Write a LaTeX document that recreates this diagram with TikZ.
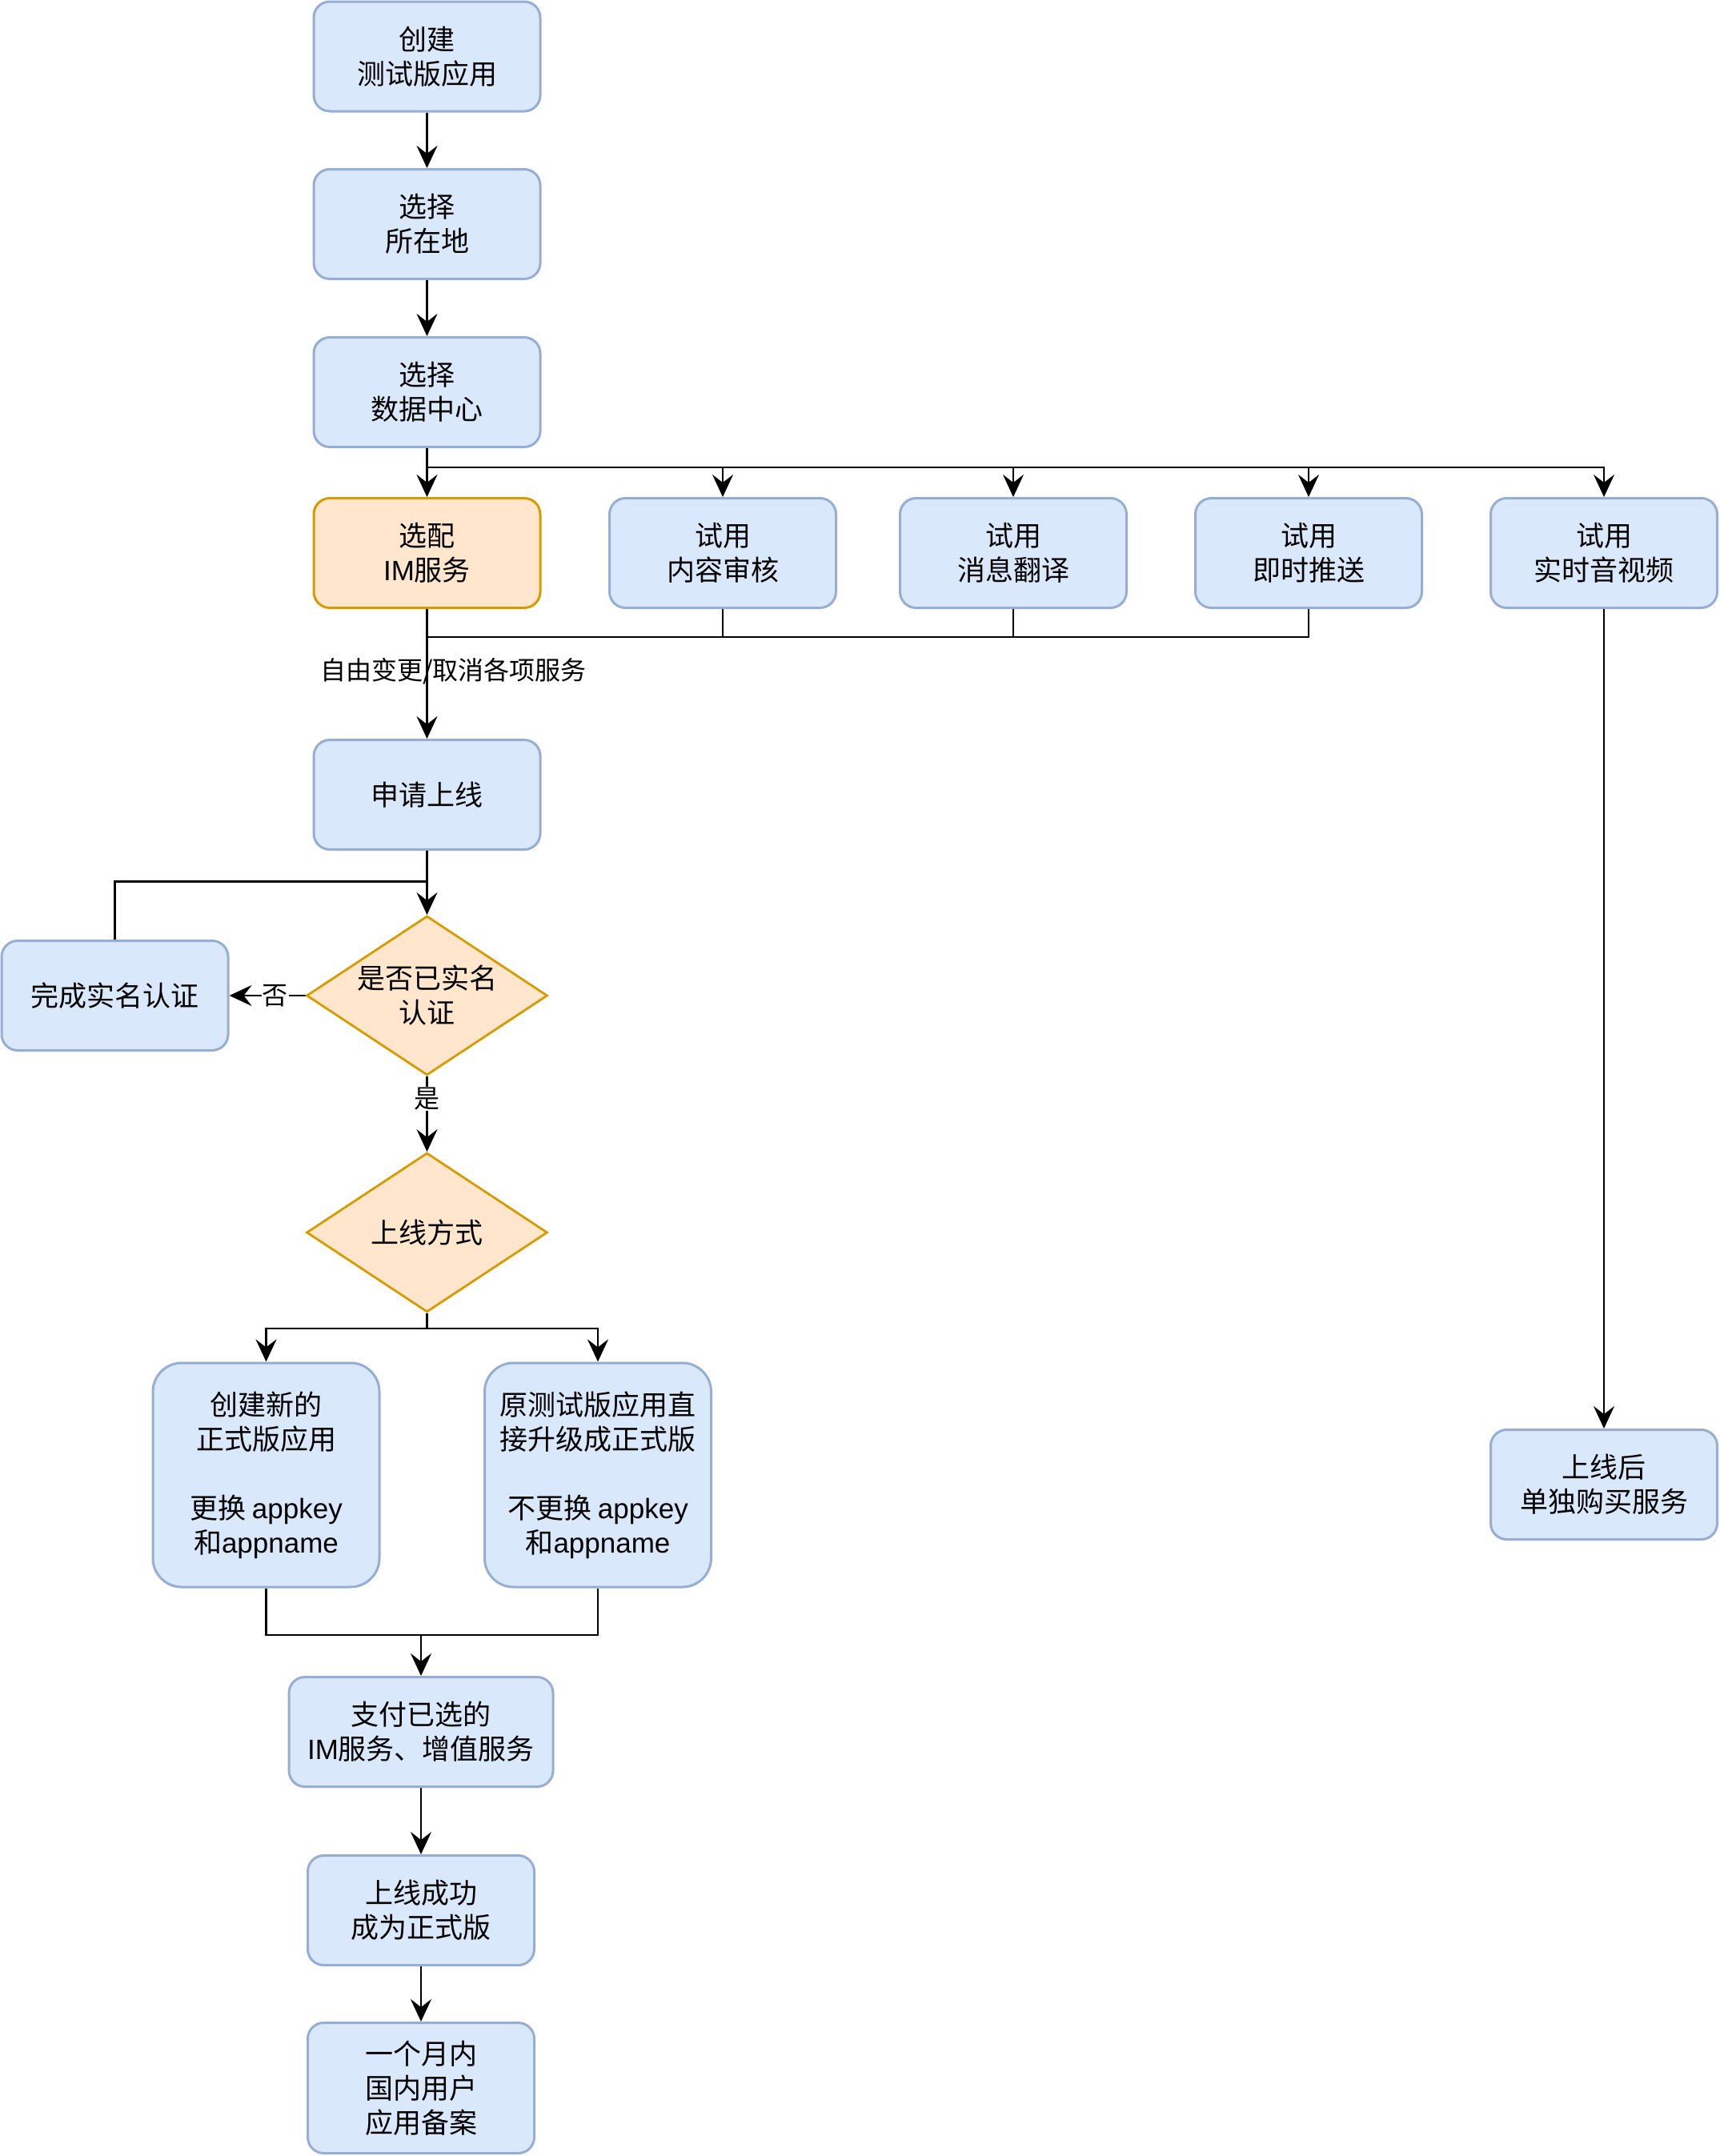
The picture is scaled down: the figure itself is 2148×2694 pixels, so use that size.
\documentclass[tikz,border=0pt]{standalone}
\usepackage{fontspec}
\setmainfont{Noto Sans CJK SC}
\newfontfamily\latin{Liberation Sans}
\usepackage{tikz}
\usetikzlibrary{arrows.meta,shapes.geometric}
\definecolor{boxfill}{HTML}{DAE8FC}
\definecolor{boxline}{HTML}{96AED3}
\definecolor{pickfill}{HTML}{FFE6CC}
\definecolor{pickline}{HTML}{D79B00}
\newcommand{\la}[1]{{\latin #1}}

\tikzset{
  box/.style={draw=boxline, fill=boxfill, line width=3pt, rounded corners=20pt,
    minimum width=283pt, minimum height=137pt, inner sep=0pt, align=center},
  pick/.style={box, draw=pickline, fill=pickfill},
  tallbox/.style={box, minimum height=280pt, rounded corners=36pt},
  query/.style={diamond, draw=pickline, fill=pickfill, line width=2.8pt, aspect=1.5,
    inner sep=0pt, minimum width=301pt, minimum height=199pt, align=center},
  link/.style={line width=2.8pt},
  arr/.style={link, -{Stealth[length=28pt,width=26pt,inset=10pt]}},
  tag/.style={font=\fontsize{32}{38}\selectfont, fill=white, inner sep=1pt}
}

\begin{document}
\begin{tikzpicture}[x=1pt,y=-1pt,font=\fontsize{35}{43}\selectfont]
  \useasboundingbox (0,0) rectangle (2148,2694);
  % main column
  \node[box] (create) at (533.5,70.5) {创建\\测试版应用};
  \node[box] (region) at (533.5,280) {选择\\所在地};
  \node[box] (dc) at (533.5,490) {选择\\数据中心};
  \node[pick] (im) at (533.5,691) {选配\\\la{IM}服务};
  \node[box] (audit) at (903,691) {试用\\内容审核};
  \node[box] (trans) at (1266,691) {试用\\消息翻译};
  \node[box] (push) at (1635,691) {试用\\即时推送};
  \node[box] (rtc) at (2004,691) {试用\\实时音视频};
  \node[box] (apply) at (533.5,993) {申请上线};
  \node[box] (real) at (143.5,1244) {完成实名认证};
  \node[query] (ask) at (533.5,1244) {是否已实名\\认证};
  \node[query] (mode) at (533.5,1540) {上线方式};
  \node[tallbox] (newapp) at (332.5,1843) {创建新的\\正式版应用\\[43pt]更换 \la{appkey}\\和\la{appname}};
  \node[tallbox] (upgrade) at (747,1843) {原测试版应用直\\接升级成正式版\\[43pt]不更换 \la{appkey}\\和\la{appname}};
  \node[box, minimum width=330pt] (pay) at (526,2164) {支付已选的\\\la{IM}服务、增值服务};
  \node[box] (live) at (526,2387) {上线成功\\成为正式版};
  \node[box, minimum height=163pt] (filing) at (526,2609) {一个月内\\国内用户\\应用备案};
  \node[box] (buy) at (2004,1855) {上线后\\单独购买服务};

  % trial services
  \coordinate (topbus) at (533.5,584);
  \coordinate (lowbus) at (533.5,796);
  \draw[arr] (dc.south) -- (im.north);
  \foreach \t in {audit,trans,push,rtc}
    \draw[arr] (topbus) -| (\t.north);
  \foreach \t in {audit,trans,push}
    \draw[link] (\t.south) |- (lowbus);
  \draw[arr] (im.south) -- (apply.north);
  \node[anchor=west, font=\fontsize{32}{38}\selectfont, inner sep=0pt] (freetag) at (400,839) {自由变更/取消各项服务};
  \draw[arr] (rtc.south) -- (buy.north);

  % going live
  \draw[arr] (create) -- (region);
  \draw[arr] (region) -- (dc);
  \coordinate (loopjoin) at (533.5,1101.5);
  \draw[link] (real.north) |- (loopjoin);
  \draw[arr] (apply.south) -- (ask.north);
  \draw[arr] (ask.west) -- node[tag, pos=0.4] {否} (real.east);
  \draw[arr] (ask.south) -- node[tag, pos=0.3] {是} (mode.north);
  \coordinate (split) at (533.5,1660);
  \draw[arr] (mode.south) -- (split) -| (newapp.north);
  \draw[arr] (split) -| (upgrade.north);
  \coordinate (merge) at (526,2043);
  \draw[link] (newapp.south) |- (merge);
  \draw[link] (upgrade.south) |- (merge);
  \draw[arr] (merge) -- (pay.north);
  \draw[arr] (pay) -- (live);
  \draw[arr] (live) -- (filing);
\end{tikzpicture}
\end{document}
